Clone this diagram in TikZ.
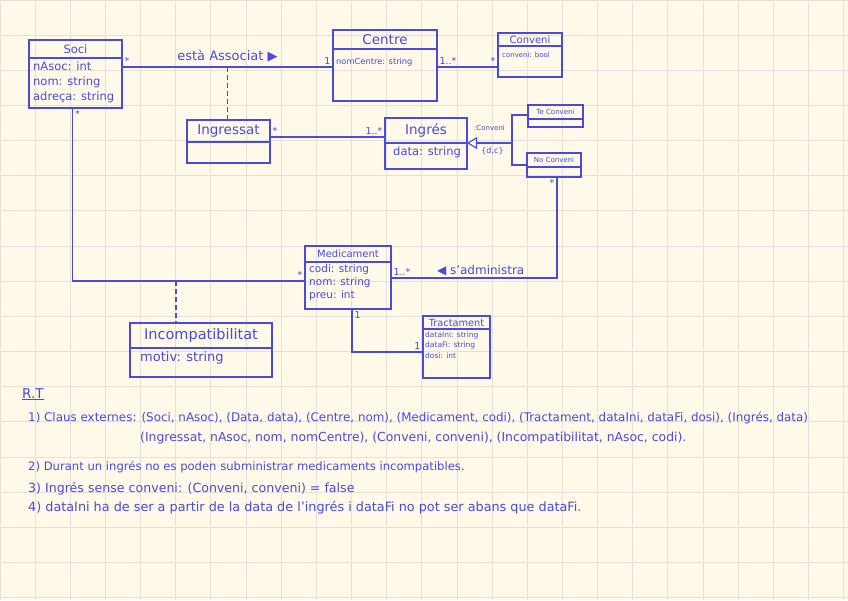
\documentclass[tikz,border=0pt]{standalone}
\usepackage{fontspec}
\setmainfont{DejaVu Sans}
\usetikzlibrary{arrows.meta,positioning}
\definecolor{ink}{RGB}{74,74,222}
\definecolor{paper}{RGB}{255,249,233}
\definecolor{gridline}{RGB}{228,225,218}

\begin{document}
\begin{tikzpicture}[
  x=1pt, y=-1pt,
  every node/.style={text=ink},
  classhead/.style={draw=ink, line width=1.1pt, inner sep=0pt, outer sep=0pt},
  classbody/.style={draw=ink, line width=1.1pt, inner sep=0pt, outer sep=0pt},
  attrs/.style={anchor=north west, inner sep=0pt, align=left},
  assoc/.style={draw=ink, line width=1.1pt},
  mult/.style={font=\fontsize{9.5}{10}\selectfont, inner sep=2pt},
  note/.style={anchor=base west, inner sep=0pt},
  gen/.style={-{Triangle[open, length=10pt, width=12pt]}}
]
\useasboundingbox (0,0) rectangle (848,600);
\fill[paper] (0,0) rectangle (848,600);
\foreach \i in {0,...,24}
  \draw[gridline, line width=0.9pt] (\i*35.15,0) -- (\i*35.15,600);
\foreach \j in {0,...,17}
  \draw[gridline, line width=0.9pt] (0,\j*35.15) -- (848,\j*35.15);

% classes
\node[classhead, minimum width=93pt, minimum height=18pt, font=\fontsize{11.5}{13}\selectfont] (socihead) at (75.5,49) {Soci};
\node[classbody, minimum width=93pt, minimum height=50pt, below=0pt of socihead] (socibody) {};
\node[attrs, font=\fontsize{11.5}{15}\selectfont] (sociattrs) at ([shift={(4,3.5)}]socibody.north west) {nAsoc: int\\nom: string\\adreça: string};

\node[classhead, minimum width=104pt, minimum height=19pt, font=\fontsize{13.5}{15}\selectfont] (centrehead) at (385,39.5) {Centre};
\node[classbody, minimum width=104pt, minimum height=52pt, below=0pt of centrehead] (centrebody) {};
\node[attrs, font=\fontsize{8.3}{10}\selectfont] (centreattrs) at ([shift={(3,9)}]centrebody.north west) {nomCentre: string};

\node[classhead, minimum width=64pt, minimum height=13pt, font=\fontsize{10}{12}\selectfont] (convenihead) at (530,39.5) {Conveni};
\node[classbody, minimum width=64pt, minimum height=31pt, below=0pt of convenihead] (convenibody) {};
\node[attrs, font=\fontsize{7}{8}\selectfont] (conveniattrs) at ([shift={(4,5.6)}]convenibody.north west) {conveni: bool};

\node[classhead, minimum width=83pt, minimum height=22pt, font=\fontsize{13.5}{15}\selectfont] (ingressathead) at (228.5,131) {Ingressat};
\node[classbody, minimum width=83pt, minimum height=21pt, below=0pt of ingressathead] (ingressatbody) {};

\node[classhead, minimum width=82pt, minimum height=25pt, font=\fontsize{13.5}{15}\selectfont] (ingreshead) at (426,130.5) {Ingrés};
\node[classbody, minimum width=82pt, minimum height=26pt, below=0pt of ingreshead] (ingresbody) {};
\node[attrs, font=\fontsize{11.5}{13}\selectfont] (ingresattrs) at ([shift={(8,3.5)}]ingresbody.north west) {data: string};

\node[classhead, minimum width=55pt, minimum height=14pt, font=\fontsize{7}{8}\selectfont] (teconvhead) at (555.5,112) {Te Conveni};
\node[classbody, minimum width=55pt, minimum height=8pt, below=0pt of teconvhead] (teconvbody) {};

\node[classhead, minimum width=54pt, minimum height=14pt, font=\fontsize{7}{8}\selectfont] (noconvhead) at (554,160) {No Conveni};
\node[classbody, minimum width=54pt, minimum height=10pt, below=0pt of noconvhead] (noconvbody) {};

\node[classhead, minimum width=86pt, minimum height=16pt, font=\fontsize{10}{12}\selectfont] (medhead) at (348,254) {Medicament};
\node[classbody, minimum width=86pt, minimum height=47pt, below=0pt of medhead] (medbody) {};
\node[attrs, font=\fontsize{10.5}{13}\selectfont] (medattrs) at ([shift={(4,2)}]medbody.north west) {codi: string\\nom: string\\preu: int};

\node[classhead, minimum width=142pt, minimum height=25pt, font=\fontsize{14.5}{16}\selectfont] (incomphead) at (201,335.5) {Incompatibilitat};
\node[classbody, minimum width=142pt, minimum height=29pt, below=0pt of incomphead] (incompbody) {};
\node[attrs, font=\fontsize{13}{14}\selectfont] (incompattrs) at ([shift={(10,3.5)}]incompbody.north west) {motiv: string};

\node[classhead, minimum width=67pt, minimum height=13pt, font=\fontsize{9.8}{11}\selectfont] (tracthead) at (456.5,322.5) {Tractament};
\node[classbody, minimum width=67pt, minimum height=49pt, below=0pt of tracthead] (tractbody) {};
\node[attrs, font=\fontsize{7.5}{10.5}\selectfont] (tractattrs) at ([shift={(2,2.4)}]tractbody.north west) {dataIni: string\\dataFi: string\\dosi: int};

% associations
\draw[assoc] ([yshift=-9pt]socibody.north east)
  -- node[mult, pos=0, above right] (socimultc) {*}
     node[mult, pos=1, above left] (centremults) {1}
     node[above=1pt, font=\fontsize{13}{15}\selectfont] (associat) {està Associat ▶}
     coordinate[pos=0.5] (assocmid)
  ([yshift=-9pt]socibody.north east -| centrebody.west);
\draw[assoc, dashed, dash pattern=on 5pt off 3pt] (assocmid) -- (assocmid |- ingressathead.north);

\draw[assoc] ([yshift=-18pt]centrebody.north east)
  -- node[mult, pos=0, above right] (centremultv) {1..*}
     node[mult, pos=1, above left] (convenimult) {*}
  ([yshift=-18pt]centrebody.north east -| convenibody.west);

\draw[assoc] ([yshift=-17pt]ingressathead.north east)
  -- node[mult, pos=0, above right] (ingressatmult) {*}
     node[mult, pos=1, above left] (ingresmult) {1..*}
  ([yshift=-17pt]ingressathead.north east -| ingreshead.west);

% generalisation
\coordinate (genjoint) at ([xshift=45pt]ingreshead.south east);
\draw[assoc, gen] (genjoint)
  -- node[above=11pt, inner sep=1pt, font=\fontsize{7}{8}\selectfont] (genname) {:Conveni}
     node[below=3pt, xshift=3pt, inner sep=1pt, font=\fontsize{8}{9}\selectfont] (gencons) {\{d,c\}}
  (ingreshead.south east);
\draw[assoc] ([yshift=-10pt]teconvhead.north west) -| (genjoint) |- ([yshift=-12pt]noconvhead.north west);

\draw[assoc] ([xshift=3pt]noconvbody.south)
  |- node[mult, pos=0, below left] (noconvmult) {*}
     node[mult, pos=1, above right] (medmultn) {1..*}
     node[pos=0.73, above, inner sep=1pt, font=\fontsize{12}{14}\selectfont] (administra) {◀ s'administra}
  ([yshift=-16pt]medbody.north east);

\draw[assoc] ([xshift=-3pt]socibody.south)
  |- node[mult, pos=0, below right] (socimultm) {*}
     node[mult, pos=1, above left] (medmults) {*}
     coordinate[pos=0.5] (socicorner)
  ([yshift=-19pt]medbody.north west);
\draw[assoc, dashed, dash pattern=on 5pt off 3pt] ([xshift=-25pt]incomphead.north |- socicorner) -- ([xshift=-25pt]incomphead.north);

\draw[assoc] ([xshift=4pt]medbody.south)
  |- node[mult, pos=0, below right] (medmultt) {1}
     node[mult, pos=1, above left] (tractmult) {1}
  ([yshift=-23pt]tractbody.north west);

% notes
\node[note, font=\fontsize{13.5}{15}\selectfont] (rt) at (22,398) {\underline{R.T}};
\node[note, font=\fontsize{11.9}{13}\selectfont] (rtone) at (28,421) {1) Claus externes: (Soci, nAsoc), (Data, data), (Centre, nom), (Medicament, codi), (Tractament, dataIni, dataFi, dosi), (Ingrés, data)};
\node[note, font=\fontsize{12.4}{13}\selectfont] (rtonecont) at (140,441) {(Ingressat, nAsoc, nom, nomCentre), (Conveni, conveni), (Incompatibilitat, nAsoc, codi).};
\node[note, font=\fontsize{11.6}{13}\selectfont] (rttwo) at (28,470) {2) Durant un ingrés no es poden subministrar medicaments incompatibles.};
\node[note, font=\fontsize{12.6}{14}\selectfont] (rtthree) at (28,492) {3) Ingrés sense conveni: (Conveni, conveni) = false};
\node[note, font=\fontsize{12.8}{14}\selectfont] (rtfour) at (28,511) {4) dataIni ha de ser a partir de la data de l'ingrés i dataFi no pot ser abans que dataFi.};
\end{tikzpicture}
\end{document}
